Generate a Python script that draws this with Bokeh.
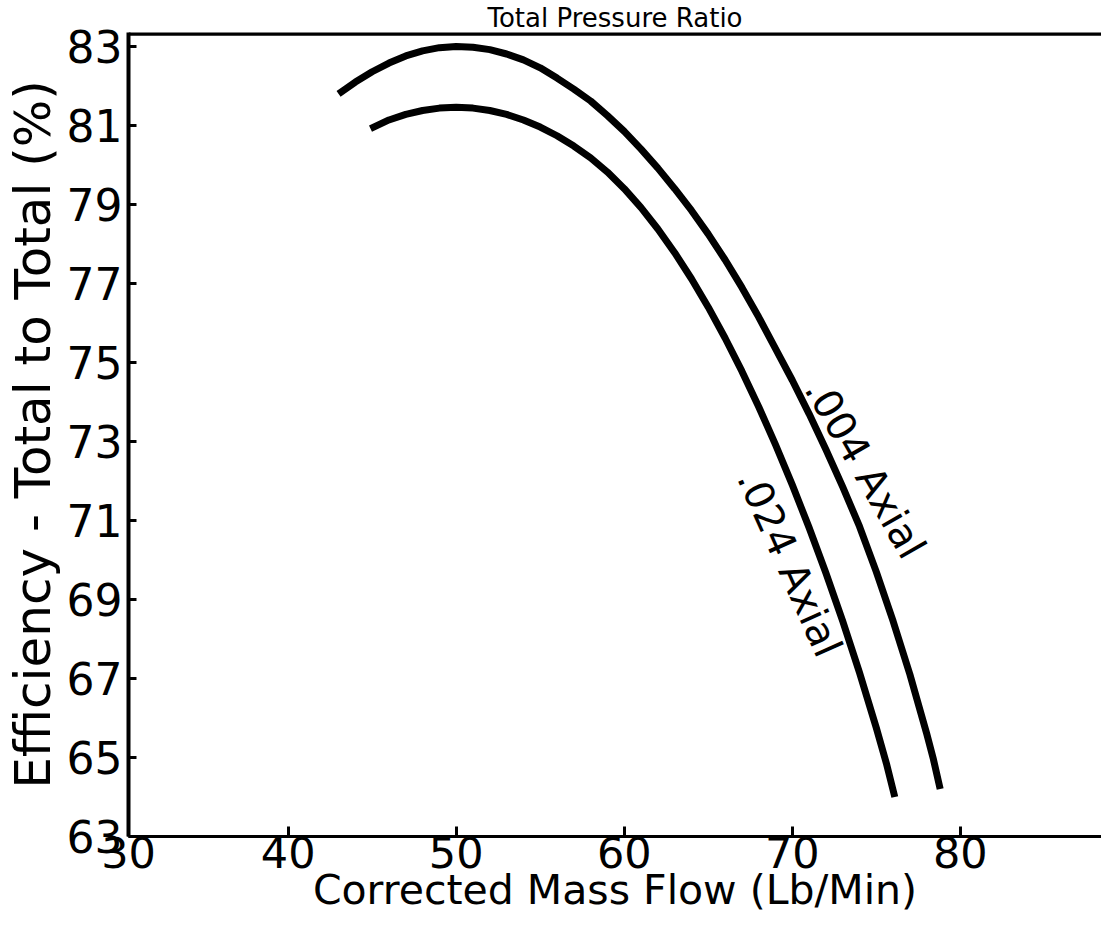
from bokeh.plotting import figure
from bokeh.models import Range1d, FixedTicker, Span, Label, PrintfTickFormatter
from bokeh.embed import file_html
from bokeh.resources import INLINE

# Data
flow_004 = [43.0, 44.0, 45.0, 46.0, 47.0, 48.0, 49.0, 50.0, 51.0, 52.0, 53.0, 54.0,
            55.0, 56.0, 57.0, 58.0, 59.0, 60.0, 61.0, 62.0, 63.0, 64.0, 65.0, 66.0,
            67.0, 68.0, 69.0, 70.0, 71.0, 72.0, 73.0, 74.0, 75.0, 76.0, 77.0, 78.0,
            78.4, 78.8]
eff_004 = [81.80, 82.10, 82.36, 82.58, 82.76, 82.89, 82.97, 83.00, 82.98, 82.92, 82.81, 82.66,
           82.46, 82.20, 81.92, 81.62, 81.25, 80.85, 80.40, 79.92, 79.40, 78.85, 78.25, 77.60,
           76.90, 76.15, 75.35, 74.55, 73.70, 72.80, 71.85, 70.85, 69.70, 68.45, 67.10, 65.60,
           64.95, 64.20]

flow_024 = [44.9, 46.0, 47.0, 48.0, 49.0, 50.0, 51.0, 52.0, 53.0, 54.0, 55.0, 56.0,
            57.0, 58.0, 59.0, 60.0, 61.0, 62.0, 63.0, 64.0, 65.0, 66.0, 67.0, 68.0,
            69.0, 70.0, 71.0, 72.0, 73.0, 74.0, 75.0, 75.6, 76.1]
eff_024 = [80.92, 81.14, 81.28, 81.38, 81.44, 81.46, 81.44, 81.38, 81.28, 81.14, 80.96, 80.74,
           80.48, 80.18, 79.82, 79.40, 78.92, 78.38, 77.78, 77.12, 76.40, 75.62, 74.78, 73.88,
           72.92, 71.90, 70.82, 69.67, 68.45, 67.15, 65.75, 64.85, 64.00]

x_ticks = [30.5, 40, 50, 60, 70, 80]
y_ticks = [63, 65, 67, 69, 71, 73, 75, 77, 79, 81, 83]

curve_labels = [".004 Axial", ".024 Axial"]
label_x = [74.35, 69.85]
label_y = [72.32, 69.92]
label_angle = [-60, -66]

FONT = "DejaVu Sans"

p = figure(width=1101, height=927, output_backend="svg", toolbar_location=None,
           x_range=Range1d(30.5, 88.4), y_range=Range1d(63, 83.354),
           min_border_left=127, min_border_right=0, min_border_top=30, min_border_bottom=91,
           background_fill_color="white", border_fill_color="white")
p.outline_line_color = None
p.grid.visible = False

# title above the frame
p.title.text = "Total Pressure Ratio"
p.title.align = "center"
p.title.text_font = FONT
p.title.text_font_size = "26px"
p.title.text_font_style = "normal"
p.title.text_color = "black"
p.title.standoff = 0
p.title.offset = 0

# x axis
xa = p.xaxis[0]
xa.ticker = FixedTicker(ticks=x_ticks)
xa.formatter = PrintfTickFormatter(format="%d")
xa.axis_label = "Corrected Mass Flow (Lb/Min)"
xa.axis_label_text_font = FONT
xa.axis_label_text_font_size = "41px"
xa.axis_label_text_font_style = "normal"
xa.axis_label_text_color = "black"
xa.axis_label_standoff = -5
xa.major_label_text_font = FONT
xa.major_label_text_font_size = "43px"
xa.major_label_text_color = "black"
xa.major_label_standoff = 0
xa.major_tick_in = 10
xa.major_tick_out = 0
xa.minor_tick_in = 0
xa.minor_tick_out = 0
xa.axis_line_width = 3
xa.major_tick_line_width = 3
xa.axis_line_color = "black"

# y axis
ya = p.yaxis[0]
ya.ticker = FixedTicker(ticks=y_ticks)
ya.axis_label = "Efficiency - Total to Total (%)"
ya.axis_label_text_font = FONT
ya.axis_label_text_font_size = "50px"
ya.axis_label_text_font_style = "normal"
ya.axis_label_text_color = "black"
ya.axis_label_standoff = 2
ya.major_label_text_font = FONT
ya.major_label_text_font_size = "44px"
ya.major_label_text_color = "black"
ya.major_label_standoff = 6
ya.major_label_orientation = "horizontal"
ya.major_tick_in = 8
ya.major_tick_out = 0
ya.minor_tick_in = 0
ya.minor_tick_out = 0
ya.axis_line_width = 4
ya.major_tick_line_width = 3
ya.axis_line_color = "black"

# top frame line
p.add_layout(Span(location=83.32, dimension="width", line_color="black", line_width=4))

# curves
p.line(flow_004, eff_004, line_color="black", line_width=7, line_cap="butt", line_join="round")
p.line(flow_024, eff_024, line_color="black", line_width=7, line_cap="butt", line_join="round")

# curve labels
for t, lx, ly, la in zip(curve_labels, label_x, label_y, label_angle):
    p.add_layout(Label(x=lx, y=ly, text=t, angle=la, angle_units="deg",
                       text_align="center", text_baseline="middle",
                       text_font=FONT, text_font_size="40px", text_color="black"))

open("out.html", "w").write(file_html(p, INLINE))
